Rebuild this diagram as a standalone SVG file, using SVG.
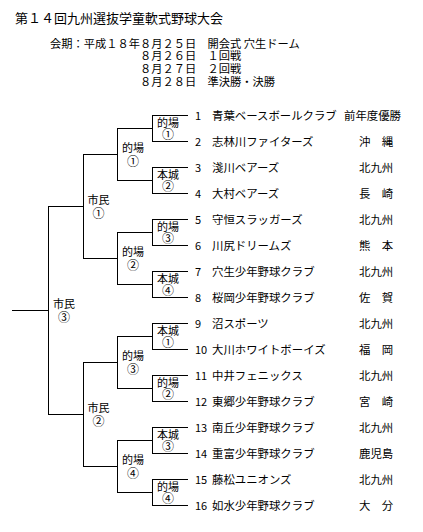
<svg xmlns="http://www.w3.org/2000/svg" width="423" height="532" viewBox="0 0 423 532">
<style>
text{font-family:"Noto Sans CJK JP","Noto Sans CJK SC",sans-serif;fill:#000}
.t{font-size:13px}
.h{font-size:11.25px}
.n{font-size:11.4px}
.num{font-size:11px}
.lb{font-size:11px;text-anchor:middle}
.c{font-size:12px}
#connectors line{stroke:#000;stroke-width:1;shape-rendering:crispEdges}
</style>
<rect width="423" height="532" fill="#fff"/>
<g id="header">
<text class="t" x="15" y="23">第１４回九州選抜学童軟式野球大会</text>
<text class="h" x="50" y="47.6">会期：平成１８年８月２５日　開会式 穴生ドーム</text>
<text class="h" x="140" y="60.3">８月２６日　１回戦</text>
<text class="h" x="140" y="73">８月２７日　２回戦</text>
<text class="h" x="140" y="85.7">８月２８日　準決勝・決勝</text>
</g>
<g id="connectors">
<line x1="152" y1="115.5" x2="188" y2="115.5"/><line x1="152" y1="141.5" x2="188" y2="141.5"/>
<line x1="152" y1="167.5" x2="188" y2="167.5"/><line x1="152" y1="193.5" x2="188" y2="193.5"/>
<line x1="152" y1="219.5" x2="188" y2="219.5"/><line x1="152" y1="245.5" x2="188" y2="245.5"/>
<line x1="152" y1="271.5" x2="188" y2="271.5"/><line x1="152" y1="297.5" x2="188" y2="297.5"/>
<line x1="152" y1="323.5" x2="188" y2="323.5"/><line x1="152" y1="349.5" x2="188" y2="349.5"/>
<line x1="152" y1="375.5" x2="188" y2="375.5"/><line x1="152" y1="401.5" x2="188" y2="401.5"/>
<line x1="152" y1="427.5" x2="188" y2="427.5"/><line x1="152" y1="453.5" x2="188" y2="453.5"/>
<line x1="152" y1="479.5" x2="188" y2="479.5"/><line x1="152" y1="505.5" x2="188" y2="505.5"/>
<line x1="152.5" y1="115" x2="152.5" y2="142"/><line x1="152.5" y1="167" x2="152.5" y2="194"/>
<line x1="152.5" y1="219" x2="152.5" y2="246"/><line x1="152.5" y1="271" x2="152.5" y2="298"/>
<line x1="152.5" y1="323" x2="152.5" y2="350"/><line x1="152.5" y1="375" x2="152.5" y2="402"/>
<line x1="152.5" y1="427" x2="152.5" y2="454"/><line x1="152.5" y1="479" x2="152.5" y2="506"/>
<line x1="117" y1="128.5" x2="152" y2="128.5"/><line x1="117" y1="180.5" x2="152" y2="180.5"/>
<line x1="117" y1="232.5" x2="152" y2="232.5"/><line x1="117" y1="284.5" x2="152" y2="284.5"/>
<line x1="117" y1="336.5" x2="152" y2="336.5"/><line x1="117" y1="388.5" x2="152" y2="388.5"/>
<line x1="117" y1="440.5" x2="152" y2="440.5"/><line x1="117" y1="492.5" x2="152" y2="492.5"/>
<line x1="117.5" y1="128" x2="117.5" y2="181"/><line x1="117.5" y1="232" x2="117.5" y2="285"/>
<line x1="117.5" y1="336" x2="117.5" y2="389"/><line x1="117.5" y1="440" x2="117.5" y2="493"/>
<line x1="83" y1="154.5" x2="117" y2="154.5"/><line x1="83" y1="258.5" x2="117" y2="258.5"/>
<line x1="83" y1="362.5" x2="117" y2="362.5"/><line x1="83" y1="466.5" x2="117" y2="466.5"/>
<line x1="83.5" y1="154" x2="83.5" y2="259"/><line x1="83.5" y1="362" x2="83.5" y2="467"/>
<line x1="48" y1="206.5" x2="83" y2="206.5"/><line x1="48" y1="414.5" x2="83" y2="414.5"/>
<line x1="48.5" y1="206" x2="48.5" y2="415"/>
<line x1="12" y1="310.5" x2="48" y2="310.5"/>
</g>
<g id="r1-1"><text class="lb" x="168" y="126.5">的場<tspan class="c" x="168" dy="12.8">①</tspan></text></g>
<g id="r1-2"><text class="lb" x="168" y="178.5">本城<tspan class="c" x="168" dy="12.8">②</tspan></text></g>
<g id="r1-3"><text class="lb" x="168" y="230.5">的場<tspan class="c" x="168" dy="12.8">③</tspan></text></g>
<g id="r1-4"><text class="lb" x="168" y="282.5">本城<tspan class="c" x="168" dy="12.8">④</tspan></text></g>
<g id="r1-5"><text class="lb" x="168" y="334.5">本城<tspan class="c" x="168" dy="12.8">①</tspan></text></g>
<g id="r1-6"><text class="lb" x="168" y="386.5">的場<tspan class="c" x="168" dy="12.8">②</tspan></text></g>
<g id="r1-7"><text class="lb" x="168" y="438.5">本城<tspan class="c" x="168" dy="12.8">③</tspan></text></g>
<g id="r1-8"><text class="lb" x="168" y="490.5">的場<tspan class="c" x="168" dy="12.8">④</tspan></text></g>
<g id="r2-1"><text class="lb" x="133" y="152">的場<tspan class="c" x="133" dy="13.5">①</tspan></text></g>
<g id="r2-2"><text class="lb" x="133" y="256">的場<tspan class="c" x="133" dy="13.5">②</tspan></text></g>
<g id="r2-3"><text class="lb" x="133" y="360">的場<tspan class="c" x="133" dy="13.5">③</tspan></text></g>
<g id="r2-4"><text class="lb" x="133" y="464">的場<tspan class="c" x="133" dy="13.5">④</tspan></text></g>
<g id="r3-1"><text class="lb" x="98.5" y="204">市民<tspan class="c" x="98.5" dy="13.5">①</tspan></text></g>
<g id="r3-2"><text class="lb" x="98.5" y="412">市民<tspan class="c" x="98.5" dy="13.5">②</tspan></text></g>
<g id="final"><text class="lb" x="64" y="308">市民<tspan class="c" x="64" dy="13.5">③</tspan></text></g>
<g id="team1"><text class="num" x="195" y="119.5">1</text><text class="n" x="212" y="119.8">青葉ベースボールクラブ</text><text class="n" x="344" y="119.8">前年度優勝</text></g>
<g id="team2"><text class="num" x="195" y="145.5">2</text><text class="n" x="212" y="145.8">志林川ファイターズ</text><text class="n" x="359" y="145.8">沖　縄</text></g>
<g id="team3"><text class="num" x="195" y="171.5">3</text><text class="n" x="212" y="171.8">淺川ベアーズ</text><text class="n" x="359" y="171.8">北九州</text></g>
<g id="team4"><text class="num" x="195" y="197.5">4</text><text class="n" x="212" y="197.8">大村ベアーズ</text><text class="n" x="359" y="197.8">長　崎</text></g>
<g id="team5"><text class="num" x="195" y="223.5">5</text><text class="n" x="212" y="223.8">守恒スラッガーズ</text><text class="n" x="359" y="223.8">北九州</text></g>
<g id="team6"><text class="num" x="195" y="249.5">6</text><text class="n" x="212" y="249.8">川尻ドリームズ</text><text class="n" x="359" y="249.8">熊　本</text></g>
<g id="team7"><text class="num" x="195" y="275.5">7</text><text class="n" x="212" y="275.8">穴生少年野球クラブ</text><text class="n" x="359" y="275.8">北九州</text></g>
<g id="team8"><text class="num" x="195" y="301.5">8</text><text class="n" x="212" y="301.8">桜岡少年野球クラブ</text><text class="n" x="359" y="301.8">佐　賀</text></g>
<g id="team9"><text class="num" x="195" y="327.5">9</text><text class="n" x="212" y="327.8">沼スポーツ</text><text class="n" x="359" y="327.8">北九州</text></g>
<g id="team10"><text class="num" x="195" y="353.5">10</text><text class="n" x="212" y="353.8">大川ホワイトボーイズ</text><text class="n" x="359" y="353.8">福　岡</text></g>
<g id="team11"><text class="num" x="195" y="379.5">11</text><text class="n" x="212" y="379.8">中井フェニックス</text><text class="n" x="359" y="379.8">北九州</text></g>
<g id="team12"><text class="num" x="195" y="405.5">12</text><text class="n" x="212" y="405.8">東郷少年野球クラブ</text><text class="n" x="359" y="405.8">宮　崎</text></g>
<g id="team13"><text class="num" x="195" y="431.5">13</text><text class="n" x="212" y="431.8">南丘少年野球クラブ</text><text class="n" x="359" y="431.8">北九州</text></g>
<g id="team14"><text class="num" x="195" y="457.5">14</text><text class="n" x="212" y="457.8">重富少年野球クラブ</text><text class="n" x="359" y="457.8">鹿児島</text></g>
<g id="team15"><text class="num" x="195" y="483.5">15</text><text class="n" x="212" y="483.8">藤松ユニオンズ</text><text class="n" x="359" y="483.8">北九州</text></g>
<g id="team16"><text class="num" x="195" y="509.5">16</text><text class="n" x="212" y="509.8">如水少年野球クラブ</text><text class="n" x="359" y="509.8">大　分</text></g>
</svg>
